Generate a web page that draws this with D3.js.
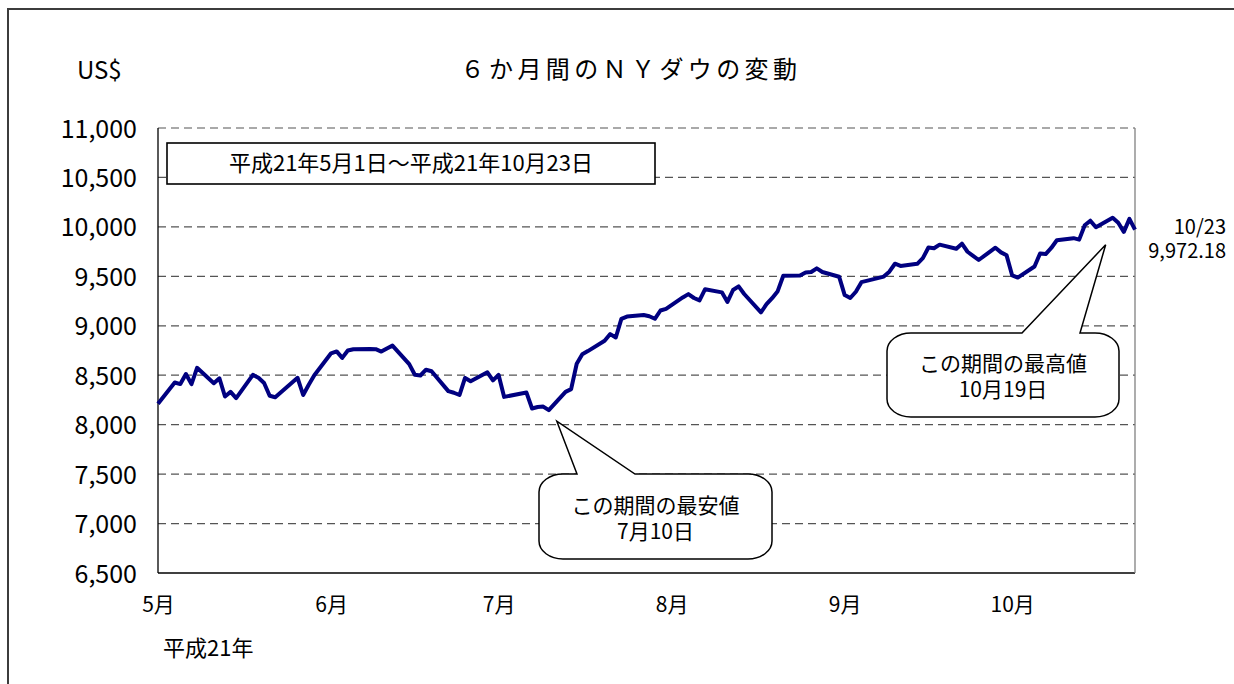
<!DOCTYPE html>
<html>
<head>
<meta charset="utf-8">
<script src="https://cdn.jsdelivr.net/npm/d3@7"></script>
<style>
  html, body { margin: 0; padding: 0; background: #fff; overflow: hidden; }
  svg { display: block; }
  text { font-family: "Noto Sans CJK JP", sans-serif; fill: #000; }
</style>
</head>
<body>
<div id="chart"></div>
<script>
// NY Dow daily closes, 2009-05-01 .. 2009-10-23
var tradeDates = [
  "05-01","05-04","05-05","05-06","05-07","05-08","05-11","05-12","05-13","05-14",
  "05-15","05-18","05-19","05-20","05-21","05-22","05-26","05-27","05-28","05-29",
  "06-01","06-02","06-03","06-04","06-05","06-08","06-09","06-10","06-11","06-12",
  "06-15","06-16","06-17","06-18","06-19","06-22","06-23","06-24","06-25","06-26",
  "06-29","06-30",
  "07-01","07-02","07-06","07-07","07-08","07-09","07-10","07-13","07-14","07-15",
  "07-16","07-17","07-20","07-21","07-22","07-23","07-24","07-27","07-28","07-29",
  "07-30","07-31",
  "08-03","08-04","08-05","08-06","08-07","08-10","08-11","08-12","08-13","08-14",
  "08-17","08-18","08-19","08-20","08-21","08-24","08-25","08-26","08-27","08-28",
  "08-31",
  "09-01","09-02","09-03","09-04","09-08","09-09","09-10","09-11","09-14","09-15",
  "09-16","09-17","09-18","09-21","09-22","09-23","09-24","09-25","09-28","09-29",
  "09-30",
  "10-01","10-02","10-05","10-06","10-07","10-08","10-09","10-12","10-13","10-14",
  "10-15","10-16","10-19","10-20","10-21","10-22","10-23"
];
var dowClose = [
  8212.41, 8426.74, 8410.65, 8512.28, 8409.85, 8574.65, 8418.77, 8469.11, 8284.89, 8331.32,
  8268.64, 8504.08, 8474.85, 8422.04, 8292.13, 8277.32, 8473.49, 8300.02, 8403.80, 8500.33,
  8721.44, 8740.87, 8675.24, 8750.24, 8763.13, 8764.49, 8763.06, 8739.02, 8770.92, 8799.26,
  8612.13, 8504.67, 8497.18, 8555.60, 8539.73, 8339.01, 8322.91, 8299.86, 8472.40, 8438.39,
  8529.38, 8447.00,
  8504.06, 8280.74, 8324.87, 8163.60, 8178.41, 8183.17, 8146.52, 8331.68, 8359.49, 8616.21,
  8711.82, 8743.94, 8848.15, 8915.94, 8881.26, 9069.29, 9093.24, 9108.51, 9096.72, 9070.72,
  9154.46, 9171.61,
  9286.56, 9320.19, 9280.97, 9256.26, 9370.07, 9337.95, 9241.45, 9361.61, 9398.19, 9321.40,
  9135.34, 9217.94, 9279.16, 9350.05, 9505.96, 9509.28, 9539.29, 9543.52, 9580.63, 9544.20,
  9496.28,
  9310.60, 9280.67, 9344.61, 9441.27, 9497.34, 9547.22, 9627.48, 9605.41, 9626.80, 9683.41,
  9791.71, 9783.92, 9820.20, 9778.86, 9829.87, 9748.55, 9707.44, 9665.19, 9789.36, 9742.20,
  9712.28,
  9509.28, 9487.67, 9599.75, 9731.25, 9725.58, 9786.87, 9864.94, 9885.80, 9871.06, 10015.86,
  10062.94, 9995.91, 10092.19, 10041.48, 9949.36, 10081.31, 9972.18
];
var monthTicks = ["05-01", "06-01", "07-01", "08-01", "09-01", "10-01"];
var monthLabels = ["5月", "6月", "7月", "8月", "9月", "10月"];
var yTicks = [6500, 7000, 7500, 8000, 8500, 9000, 9500, 10000, 10500, 11000];
var yearLabel = "平成21年";
var periodLabel = "平成21年5月1日～平成21年10月23日";
var lowLabel = ["この期間の最安値", "7月10日"];
var highLabel = ["この期間の最高値", "10月19日"];

var parseDay = d3.timeParse("%Y-%m-%d");
function day(s) { return parseDay("2009-" + s); }

var data = tradeDates.map(function(d, i) { return { date: day(d), value: dowClose[i] }; });

var W = 1234, H = 684;
var plot = { left: 158, right: 1135, top: 128, bottom: 573 };

var svg = d3.select("#chart").append("svg")
  .attr("width", W).attr("height", H);

// outer frame: only top and left edges are in the picture
svg.append("path")
  .attr("d", "M8," + H + "V9H" + W)
  .attr("fill", "none").attr("stroke", "#3c3c3c").attr("stroke-width", 2);

var x = d3.scaleTime()
  .domain([day("05-01"), day("10-23")])
  .range([plot.left, plot.right]);
var y = d3.scaleLinear()
  .domain([6500, 11000])
  .range([plot.bottom, plot.top]);

// gridlines
svg.append("g").selectAll("line")
  .data(yTicks.slice(1))
  .enter().append("line")
  .attr("x1", plot.left).attr("x2", plot.right)
  .attr("y1", function(d) { return y(d); })
  .attr("y2", function(d) { return y(d); })
  .attr("stroke", "#555")
  .attr("stroke-width", 1.2)
  .attr("stroke-dasharray", "8,5");

// plot border: left + bottom black, right grey
svg.append("line")
  .attr("x1", plot.left).attr("x2", plot.left)
  .attr("y1", plot.top).attr("y2", plot.bottom)
  .attr("stroke", "#000").attr("stroke-width", 1.3);
svg.append("line")
  .attr("x1", plot.left).attr("x2", plot.right)
  .attr("y1", plot.bottom).attr("y2", plot.bottom)
  .attr("stroke", "#000").attr("stroke-width", 1.3);
svg.append("line")
  .attr("x1", plot.right).attr("x2", plot.right)
  .attr("y1", plot.top).attr("y2", plot.bottom)
  .attr("stroke", "#808080").attr("stroke-width", 1.3);

// y axis labels
var yAxis = d3.axisLeft(y)
  .tickValues(yTicks)
  .tickSize(0)
  .tickPadding(21)
  .tickFormat(d3.format(","));
var gy = svg.append("g")
  .attr("transform", "translate(" + plot.left + ",0)")
  .call(yAxis);
gy.select(".domain").remove();
gy.selectAll("text")
  .attr("font-size", 25)
  .attr("font-family", "'Noto Sans CJK JP', sans-serif")
  .attr("fill", "#000")
  .attr("dy", "0.36em");

// x axis labels
var xAxis = d3.axisBottom(x)
  .tickValues(monthTicks.map(day))
  .tickSize(0)
  .tickPadding(24)
  .tickFormat(function(d, i) { return monthLabels[i]; });
var gx = svg.append("g")
  .attr("transform", "translate(0," + plot.bottom + ")")
  .call(xAxis);
gx.select(".domain").remove();
gx.selectAll("text")
  .attr("font-size", 21)
  .attr("font-family", "'Noto Sans CJK JP', sans-serif")
  .attr("fill", "#000");

// line
var line = d3.line()
  .x(function(d) { return x(d.date); })
  .y(function(d) { return y(d.value); });
svg.append("path")
  .datum(data)
  .attr("d", line)
  .attr("fill", "none")
  .attr("stroke", "#000080")
  .attr("stroke-width", 4)
  .attr("stroke-linejoin", "round");

// title and unit
svg.append("text")
  .attr("x", 631).attr("y", 78)
  .attr("text-anchor", "middle")
  .attr("font-size", 24)
  .attr("letter-spacing", 4.4)
  .text("６か月間のＮＹダウの変動");
svg.append("text")
  .attr("x", 77).attr("y", 79)
  .attr("font-size", 24)
  .text("US$");

// period box
svg.append("rect")
  .attr("x", 167).attr("y", 143).attr("width", 488).attr("height", 41)
  .attr("fill", "#fff").attr("stroke", "#000").attr("stroke-width", 1.6);
svg.append("text")
  .attr("x", 411).attr("y", 171)
  .attr("text-anchor", "middle")
  .attr("font-size", 22)
  .text(periodLabel);

// year under axis
svg.append("text")
  .attr("x", 163).attr("y", 656)
  .attr("font-size", 22)
  .text(yearLabel);

// two-line text as one element
function twoLines(tx, ty, lines, gap, size, anchor) {
  var t = svg.append("text")
    .attr("x", tx).attr("y", ty)
    .attr("text-anchor", anchor)
    .attr("font-size", size);
  t.append("tspan").attr("x", tx).attr("y", ty).text(lines[0]);
  t.append("tspan").attr("x", tx).attr("y", ty + gap).text(lines[1]);
  return t;
}

// last value label
var last = data[data.length - 1];
twoLines(1226, y(last.value) + 4,
  [d3.timeFormat("%m/%d")(last.date).replace(/^0/, ""), d3.format(",.2f")(last.value)],
  24, 20, "end");

// callouts
function callout(b, tip, lines) {
  var rx = 24, ry = 18;
  var p = "M" + (b.x0 + rx) + "," + b.y0 +
    "L" + b.w0 + "," + b.y0 +
    "L" + tip[0] + "," + tip[1] +
    "L" + b.w1 + "," + b.y0 +
    "L" + (b.x1 - rx) + "," + b.y0 +
    "A" + rx + "," + ry + " 0 0 1 " + b.x1 + "," + (b.y0 + ry) +
    "L" + b.x1 + "," + (b.y1 - ry) +
    "A" + rx + "," + ry + " 0 0 1 " + (b.x1 - rx) + "," + b.y1 +
    "L" + (b.x0 + rx) + "," + b.y1 +
    "A" + rx + "," + ry + " 0 0 1 " + b.x0 + "," + (b.y1 - ry) +
    "L" + b.x0 + "," + (b.y0 + ry) +
    "A" + rx + "," + ry + " 0 0 1 " + (b.x0 + rx) + "," + b.y0 + "Z";
  svg.append("path")
    .attr("d", p)
    .attr("fill", "#fff")
    .attr("stroke", "#000")
    .attr("stroke-width", 1.5)
    .attr("stroke-linejoin", "miter");
  var cx = (b.x0 + b.x1) / 2, cy = (b.y0 + b.y1) / 2;
  twoLines(cx, cy - 4, lines, 26, 21, "middle");
}

var lowPt = data[tradeDates.indexOf("07-10")];
var highPt = data[tradeDates.indexOf("10-19")];

callout({ x0: 539, x1: 772, y0: 474, y1: 559, w0: 577, w1: 635 },
  [x(lowPt.date) + 8, y(lowPt.value) + 11], lowLabel);
callout({ x0: 887, x1: 1119, y0: 333, y1: 417, w0: 1022, w1: 1080 },
  [x(highPt.date) - 7, y(highPt.value) + 27], highLabel);
</script>
</body>
</html>
